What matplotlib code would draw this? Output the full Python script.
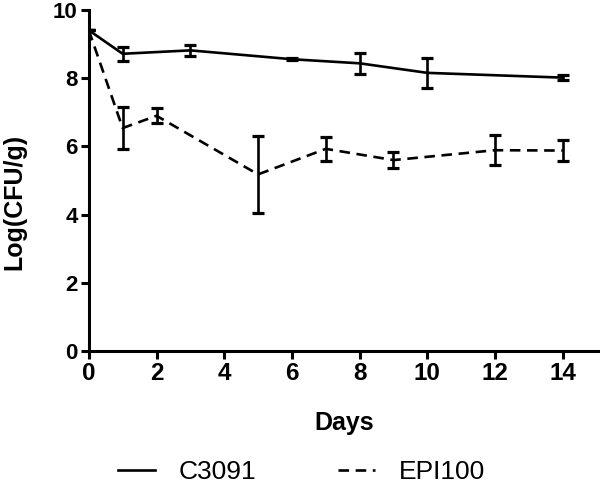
import matplotlib
matplotlib.use("Agg")
import matplotlib.pyplot as plt

plt.rcParams['font.family'] = ['Liberation Sans', 'DejaVu Sans']

# C3091 strain
days_c = [0, 1, 3, 6, 8, 10, 14]
log_c = [9.41, 8.72, 8.82, 8.56, 8.44, 8.16, 8.02]
err_c = [0.0, 0.2, 0.17, 0.03, 0.3, 0.43, 0.08]

# EPI100 strain
days_e = [0, 1, 2, 5, 7, 9, 12, 14]
log_e = [9.41, 6.54, 6.9, 5.18, 5.93, 5.6, 5.89, 5.88]
err_e = [0.0, 0.62, 0.22, 1.12, 0.35, 0.24, 0.44, 0.3]

xticks = [0, 2, 4, 6, 8, 10, 12, 14]
yticks = [0, 2, 4, 6, 8, 10]

fig = plt.figure(figsize=(6, 4.84), dpi=100)
ax = fig.add_axes([0.148, 0.275, 0.852, 0.704])

ax.errorbar(days_c, log_c, yerr=err_c, color='black', lw=1.9, elinewidth=1.9,
            capsize=4.3, capthick=2.3, label='C3091')
ax.errorbar(days_e, log_e, yerr=err_e, color='black', lw=1.9, elinewidth=1.9,
            capsize=4.3, capthick=2.3, linestyle=(0, (4, 2.5)), label='EPI100')

ax.set_xlim(0, 15.1)
ax.set_ylim(0, 10)
ax.set_xticks(xticks)
ax.set_yticks(yticks)
ax.set_xticklabels([str(t) for t in xticks], fontsize=17.5, fontweight='bold')
ax.set_yticklabels([str(t) for t in yticks], fontsize=16, fontweight='bold')

for s in ['top', 'right']:
    ax.spines[s].set_visible(False)
for s in ['left', 'bottom']:
    ax.spines[s].set_linewidth(2.2)
ax.tick_params(direction='out', length=6, width=2.2, pad=2)

ax.set_xlabel('Days', fontsize=18, fontweight='bold', labelpad=19)
fig.text(0.024, 0.583, 'Log(CFU/g)', rotation=90, fontsize=18, fontweight='bold',
         ha='center', va='center')

handles, labels = ax.get_legend_handles_labels()
handles = [h[0] for h in handles]
fig.legend(handles, labels, loc='center', bbox_to_anchor=(0.502, 0.025), ncol=2,
           frameon=False, fontsize=19, handlelength=1.4, handletextpad=0.9,
           columnspacing=3.1)

fig.savefig('out.png', dpi=100)
